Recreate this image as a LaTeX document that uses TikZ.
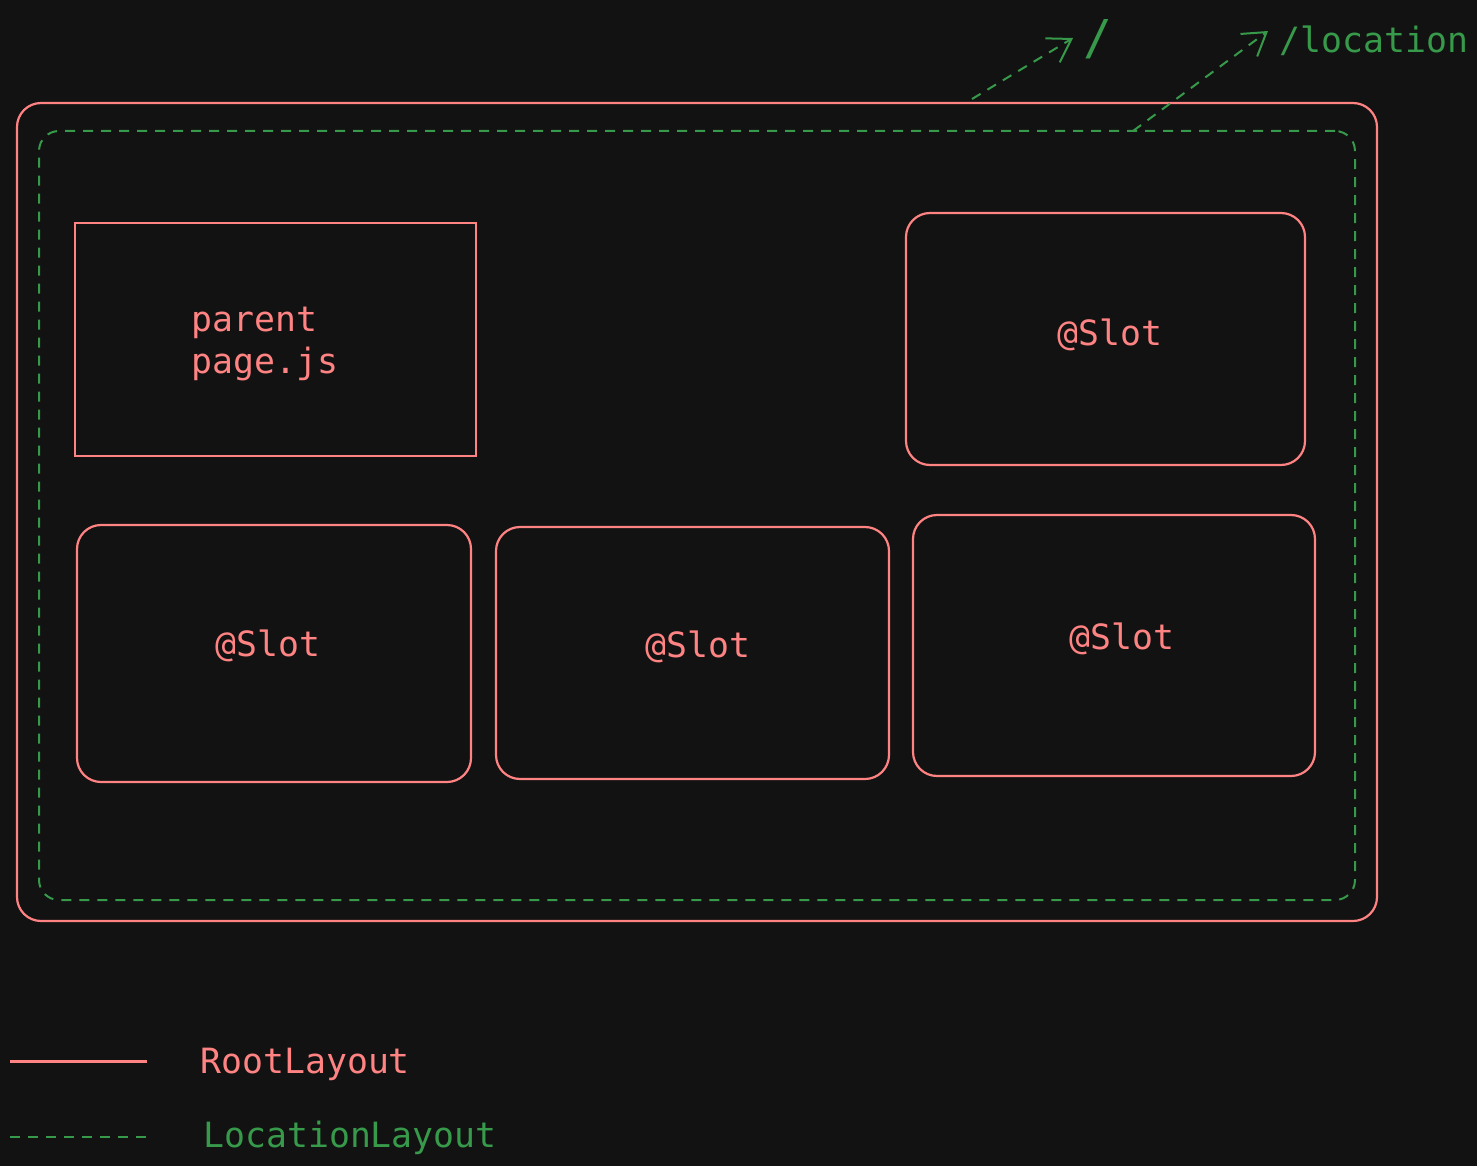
\documentclass[tikz,border=0pt]{standalone}
\usepackage{fontspec}
\setmonofont{DejaVu Sans Mono}
\usetikzlibrary{arrows.meta}
\definecolor{bg}{HTML}{121212}
\definecolor{rl}{HTML}{FF8383}
\definecolor{gl}{HTML}{37994A}
\tikzset{
  rootbox/.style={draw=rl, line width=1.1pt, inner sep=0pt},
  locbox/.style={draw=gl, line width=1pt, dash pattern=on 5pt off 4pt, inner sep=0pt},
  lbl/.style={font=\ttfamily\fontsize{17.4pt}{21pt}\selectfont, inner sep=0pt},
  redtxt/.style={lbl, text=rl},
  greentxt/.style={lbl, text=gl},
  locarrow/.style={draw=gl, line width=1pt, dash pattern=on 5pt off 4pt, -{Straight Barb[length=11pt,width=14pt,line width=1pt]}}
}
\begin{document}
\begin{tikzpicture}[x=0.5pt,y=-0.5pt]
\fill[bg] (0,0) rectangle (1477,1166);
\useasboundingbox (0,0) rectangle (1477,1166);
% outer root layout
\node[rootbox, rounded corners=12pt, minimum width=680pt, minimum height=409pt] (root) at (697,512) {};
% location layout
\node[locbox, rounded corners=10pt, minimum width=658pt, minimum height=384.5pt] (loc) at (697,515.5) {};
% parent page
\node[rootbox, minimum width=200.5pt, minimum height=116.5pt] (parent) at (275.5,339.5) {};
\node[redtxt, align=left] (parenttxt) at (265,344) {parent\\page.js};
% slots
\node[rootbox, rounded corners=12pt, minimum width=199.5pt, minimum height=126pt] (s1) at (1105.5,339) {};
\node[redtxt] (s1t) at (1110,335) {@Slot};
\node[rootbox, rounded corners=12pt, minimum width=197pt, minimum height=128.5pt] (s2) at (274,653.5) {};
\node[redtxt] (s2t) at (268,646) {@Slot};
\node[rootbox, rounded corners=12pt, minimum width=196.5pt, minimum height=126pt] (s3) at (692.5,653) {};
\node[redtxt] (s3t) at (698,647) {@Slot};
\node[rootbox, rounded corners=12pt, minimum width=201pt, minimum height=130.5pt] (s4) at (1114,645.5) {};
\node[redtxt] (s4t) at (1122,639) {@Slot};
% top arrows
\coordinate (a1s) at (972,99);
\coordinate (a1e) at (1073,38);
\coordinate (a2s) at (1133,131);
\coordinate (a2e) at (1268,31);
\node[greentxt, font=\ttfamily\fontsize{24pt}{28pt}\selectfont, anchor=west] (slash) at (1083,39) {/};
\node[greentxt, anchor=west] (locl) at (1279,41) {/location};
\draw[locarrow] (a1s) -- (a1e);
\draw[locarrow] (a2s) -- (a2e);
% legend
\coordinate (l1s) at (10,1061.5);
\coordinate (l1e) at (147,1061.5);
\coordinate (l2s) at (10,1137);
\coordinate (l2e) at (147,1137);
\draw[draw=rl, line width=1.5pt] (l1s) -- (l1e);
\draw[draw=gl, line width=1pt, dash pattern=on 5pt off 4pt] (l2s) -- (l2e);
\node[redtxt, anchor=west] (rlt) at (200,1064) {RootLayout};
\node[greentxt, anchor=west] (llt) at (203,1138) {LocationLayout};
\end{tikzpicture}
\end{document}
